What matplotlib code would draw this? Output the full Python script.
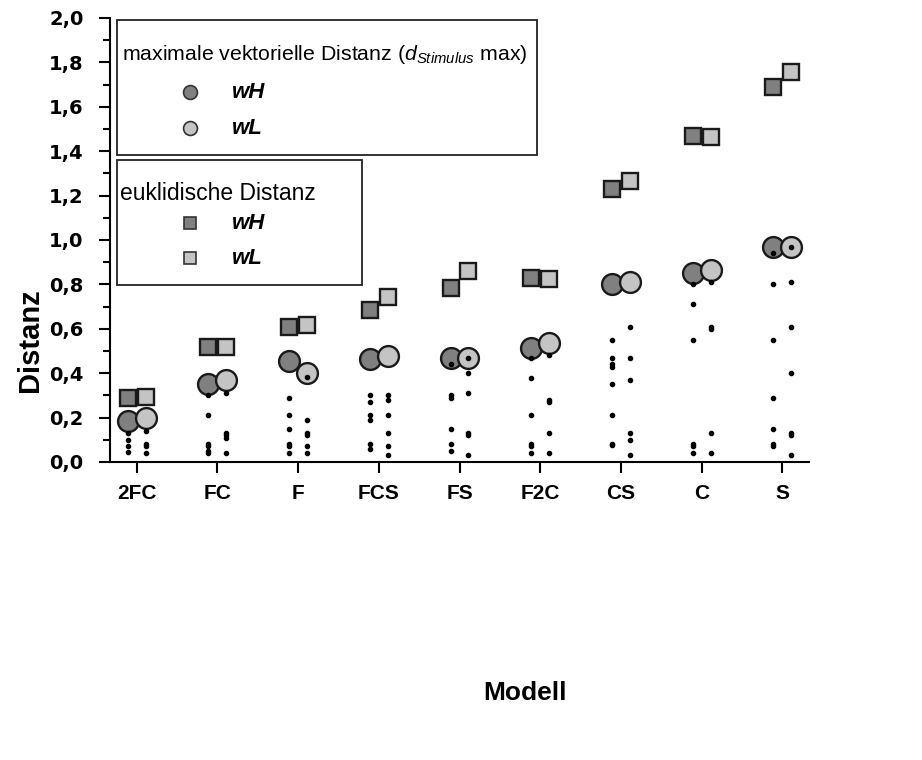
import matplotlib
matplotlib.use("Agg")
import matplotlib.pyplot as plt
from matplotlib import font_manager
from matplotlib.lines import Line2D
from matplotlib.patches import Rectangle
from matplotlib.ticker import MultipleLocator, FuncFormatter

plt.rcParams['font.family'] = ['Liberation Sans', 'DejaVu Sans']
plt.rcParams['mathtext.fontset'] = 'custom'
plt.rcParams['mathtext.it'] = 'Liberation Sans:italic'
plt.rcParams['mathtext.rm'] = 'Liberation Sans'

# Models on the x axis
categories = ['2FC', 'FC', 'F', 'FCS', 'FS', 'F2C', 'CS', 'C', 'S']

# Euclidean distance
eukl_wH = [0.29, 0.52, 0.61, 0.685, 0.785, 0.83, 1.23, 1.47, 1.69]
eukl_wL = [0.295, 0.52, 0.617, 0.743, 0.86, 0.824, 1.266, 1.465, 1.757]

# Maximal vector distance (d_Stimulus max)
max_wH = [0.185, 0.35, 0.455, 0.464, 0.468, 0.514, 0.80, 0.85, 0.968]
max_wL = [0.20, 0.37, 0.40, 0.477, 0.468, 0.536, 0.81, 0.865, 0.968]

# Single stimulus distances per model
stim_wH = [
    [0.13, 0.10, 0.07, 0.045],
    [0.30, 0.21, 0.08, 0.07, 0.05, 0.04],
    [0.29, 0.21, 0.15, 0.08, 0.07, 0.04],
    [0.30, 0.27, 0.21, 0.19, 0.08, 0.06],
    [0.44, 0.30, 0.29, 0.15, 0.08, 0.05],
    [0.47, 0.38, 0.21, 0.08, 0.07, 0.04],
    [0.55, 0.47, 0.44, 0.43, 0.35, 0.21, 0.08, 0.075],
    [0.80, 0.71, 0.55, 0.08, 0.07, 0.04],
    [0.94, 0.80, 0.55, 0.29, 0.15, 0.08, 0.07],
]
stim_wL = [
    [0.14, 0.08, 0.07, 0.04],
    [0.31, 0.13, 0.12, 0.11, 0.04],
    [0.385, 0.19, 0.13, 0.12, 0.07, 0.04],
    [0.30, 0.28, 0.21, 0.13, 0.07, 0.03],
    [0.47, 0.40, 0.31, 0.13, 0.12, 0.03],
    [0.48, 0.28, 0.27, 0.13, 0.04],
    [0.61, 0.47, 0.37, 0.13, 0.10, 0.03],
    [0.81, 0.61, 0.60, 0.13, 0.04],
    [0.97, 0.81, 0.61, 0.40, 0.13, 0.12, 0.03],
]

dark = '#808080'
light = '#c4c4c4'
edge = '#1a1a1a'
off = 0.11

W, H = 922, 760
fig = plt.figure(figsize=(W / 100, H / 100), dpi=100)
ax = fig.add_axes([110 / W, 1 - 462 / H, 699 / W, 444 / H])

xs = list(range(len(categories)))
x_h = [x - off for x in xs]
x_l = [x + off for x in xs]

sq = dict(marker='s', ms=12, mec=edge, mew=1.7, ls='none', zorder=3)
ci = dict(marker='o', ms=15, mec=edge, mew=1.7, ls='none', zorder=4)

ax.plot(x_h, eukl_wH, mfc=dark, **sq)
ax.plot(x_l, eukl_wL, mfc=light, **sq)
ax.plot(x_h, max_wH, mfc=dark, **ci)
ax.plot(x_l, max_wL, mfc=light, **ci)

for i in xs:
    ax.plot([x_h[i]] * len(stim_wH[i]), stim_wH[i], 'o', ms=3, color='black', zorder=5)
    ax.plot([x_l[i]] * len(stim_wL[i]), stim_wL[i], 'o', ms=3, color='black', zorder=5)

ax.set_xlim(-0.33, 8.33)
ax.set_ylim(0, 2.0)
ax.set_xticks(xs)
ax.set_xticklabels(categories)
ax.yaxis.set_major_locator(MultipleLocator(0.2))
ax.yaxis.set_minor_locator(MultipleLocator(0.1))
ax.yaxis.set_major_formatter(FuncFormatter(lambda v, p: f'{v:.1f}'.replace('.', ',')))

for s in ['top', 'right']:
    ax.spines[s].set_visible(False)
for s in ['left', 'bottom']:
    ax.spines[s].set_linewidth(1.5)

ax.tick_params(axis='both', which='major', direction='out', length=8, width=1.5)
ax.tick_params(axis='y', which='minor', direction='out', length=5, width=1.5)
ax.tick_params(axis='x', labelsize=15, pad=8)
ax.tick_params(axis='y', labelsize=14, pad=11)
for lab in ax.get_xticklabels():
    lab.set_fontweight('bold')
for lab in ax.get_yticklabels():
    lab.set_fontweight('bold')
    lab.set_family('DejaVu Sans')

# Condensed face for the y axis title when available
installed = {f.name for f in font_manager.fontManager.ttflist}
if 'Liberation Sans Narrow' in installed:
    ax.set_ylabel('Distanz', fontsize=24, fontweight='bold', family='Liberation Sans Narrow')
else:
    ax.set_ylabel('Distanz', fontsize=21, fontweight='bold', stretch='condensed')
ax.yaxis.set_label_coords(-0.094, 0.275)
ax.set_xlabel('Modell', fontsize=19, fontweight='bold', labelpad=128)
ax.xaxis.set_label_coords(0.594, -0.52)
ax.xaxis.label.set_va('center')


def fx(x):
    return x / W


def fy(y):
    return 1 - y / H


def legend_box(x0, y0, x1, y1):
    fig.add_artist(Rectangle((fx(x0), fy(y1)), fx(x1) - fx(x0), fy(y0) - fy(y1),
                             transform=fig.transFigure, fill=False,
                             edgecolor='#222222', lw=1.3))


def legend_entry(y, marker, ms, color, label):
    fig.add_artist(Line2D([fx(190)], [fy(y)], marker=marker, ms=ms, mfc=color,
                          mec='#333333', mew=1.2, ls='none',
                          transform=fig.transFigure))
    fig.text(fx(232), fy(y), label, fontsize=16, fontweight='bold',
             fontstyle='italic', va='center', ha='left')


# Legend: maximal vector distance
legend_box(117, 20, 537, 155)
fig.text(fx(122), fy(55), r'maximale vektorielle Distanz ($d_{Stimulus}$ max)',
         fontsize=15.3, va='center', ha='left')
legend_entry(92, 'o', 10, dark, 'wH')
legend_entry(128, 'o', 10, light, 'wL')

# Legend: Euclidean distance
legend_box(117, 160, 362, 285)
fig.text(fx(120), fy(193), 'euklidische Distanz', fontsize=16.5, va='center', ha='left')
legend_entry(223, 's', 8, dark, 'wH')
legend_entry(258, 's', 8, light, 'wL')

fig.savefig('out.png', dpi=100)
